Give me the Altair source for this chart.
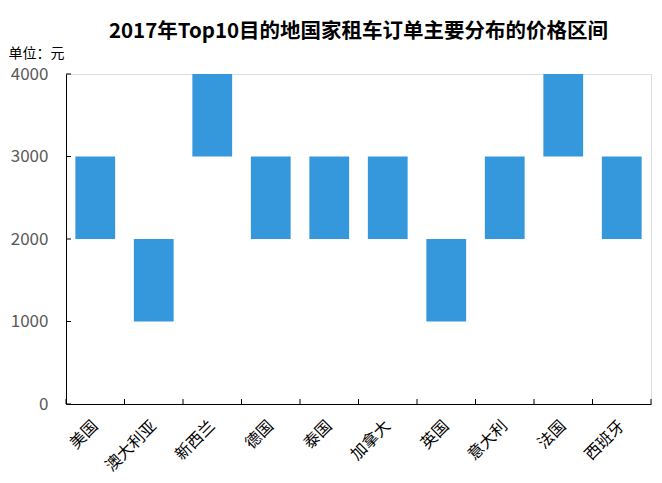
import altair as alt
import pandas as pd

countries = ["美国", "澳大利亚", "新西兰", "德国", "泰国", "加拿大", "英国", "意大利", "法国", "西班牙"]
low = [2000, 1000, 3000, 2000, 2000, 2000, 1000, 2000, 3000, 2000]
high = [3000, 2000, 4000, 3000, 3000, 3000, 2000, 3000, 4000, 3000]
y_ticks = [0, 1000, 2000, 3000, 4000]

W, H = 585, 330
FONT = "Noto Sans CJK SC"

df = pd.DataFrame({"country": countries, "low": low, "high": high})
df_last = df.tail(1)
df_y = pd.DataFrame({"v": y_ticks})

xscale = alt.Scale(domain=countries, paddingInner=0, paddingOuter=0)
yscale = alt.Scale(domain=[0, 4000], nice=False)

bars = alt.Chart(df).mark_bar(color="#3598DC", width=alt.RelativeBandSize(0.68)).encode(
    x=alt.X("country:N", scale=xscale, sort=countries,
            axis=alt.Axis(title=None, labelAngle=-45, labelFontSize=16, labelColor="#000000",
                          labelFont=FONT, ticks=False, domainColor="#000000", labelPadding=19,
                          labelAlign="right", labelBaseline="middle", labelOverlap=False)),
    y=alt.Y("low:Q", scale=yscale,
            axis=alt.Axis(values=y_ticks, format="d", grid=False, ticks=False, domainColor="#000000",
                          labelColor="#595959", labelFontSize=17, labelFont=FONT, labelPadding=18,
                          title="单位：元", titleAngle=0, titleX=-58, titleY=-21,
                          titleAlign="left", titleBaseline="middle", titleFontSize=14,
                          titleFontWeight="normal", titleFont=FONT, titleColor="#000000")),
    y2="high:Q",
)

ytick = alt.Chart(df_y).mark_rule(color="#000000", strokeWidth=1).encode(
    y=alt.Y("v:Q", scale=yscale),
    x=alt.value(0), x2=alt.value(5),
)

xtick = alt.Chart(df).mark_rule(color="#000000", strokeWidth=1).encode(
    x=alt.X("country:N", scale=xscale, sort=countries, bandPosition=0),
    y=alt.value(H - 5), y2=alt.value(H),
)
xtick_end = alt.Chart(df_last).mark_rule(color="#000000", strokeWidth=1).encode(
    x=alt.X("country:N", scale=xscale, sort=countries, bandPosition=1),
    y=alt.value(H - 5), y2=alt.value(H),
)

chart = alt.layer(bars, ytick, xtick, xtick_end).properties(
    width=W, height=H, padding={"top": 13, "left": 0, "right": 0, "bottom": 0},
    title=alt.TitleParams("2017年Top10目的地国家租车订单主要分布的价格区间",
                          font=FONT, fontSize=20.5, fontWeight="bold", color="#000000",
                          anchor="middle", offset=4),
).configure_view(stroke=None).configure(background="#ffffff")

chart.save("out.html", embed_options={"renderer": "svg", "actions": False})
